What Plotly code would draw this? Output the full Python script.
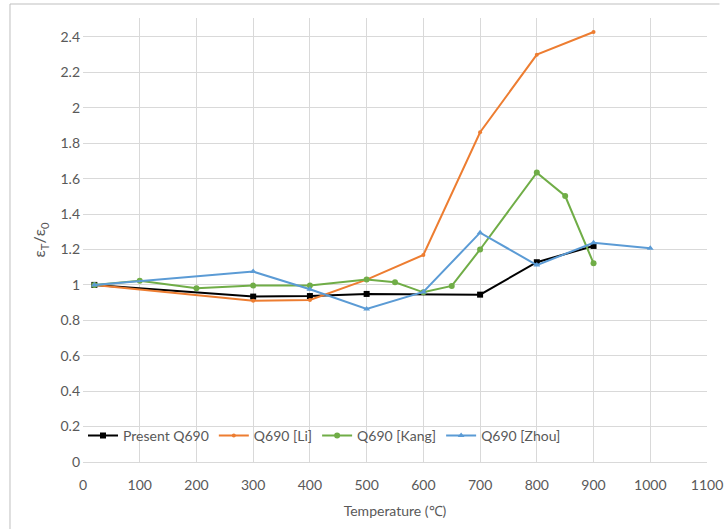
import plotly.graph_objects as go

# Normalised strain ratio vs temperature for Q690 steel
present_t = [20, 300, 400, 500, 700, 800, 900]
present_v = [1.00, 0.934, 0.937, 0.949, 0.945, 1.128, 1.22]

li_t = [20, 300, 400, 500, 600, 700, 800, 900]
li_v = [1.00, 0.91, 0.915, 1.03, 1.169, 1.862, 2.30, 2.428]

kang_t = [20, 100, 200, 300, 400, 500, 550, 600, 650, 700, 800, 850, 900]
kang_v = [1.00, 1.024, 0.981, 0.996, 0.996, 1.03, 1.015, 0.958, 0.994, 1.20, 1.634, 1.502, 1.122]

zhou_t = [20, 300, 400, 500, 600, 700, 800, 900, 1000]
zhou_v = [1.00, 1.075, 0.975, 0.864, 0.96, 1.295, 1.112, 1.238, 1.207]

x_ticks = list(range(0, 1101, 100))
y_ticks = [round(0.2 * i, 1) for i in range(13)]

FONT = "Lato"
GREY = "#595959"
FS = 14

fig = go.Figure()
fig.add_trace(go.Scatter(x=present_t, y=present_v, name="Present Q690", mode="lines+markers",
                         line=dict(color="#000000", width=2),
                         marker=dict(symbol="square", size=6, color="#000000")))
fig.add_trace(go.Scatter(x=li_t, y=li_v, name="Q690 [Li]", mode="lines+markers",
                         line=dict(color="#ED7D31", width=2),
                         marker=dict(symbol="circle", size=4, color="#ED7D31")))
fig.add_trace(go.Scatter(x=kang_t, y=kang_v, name="Q690 [Kang]", mode="lines+markers",
                         line=dict(color="#70AD47", width=2),
                         marker=dict(symbol="circle", size=6, color="#70AD47")))
fig.add_trace(go.Scatter(x=zhou_t, y=zhou_v, name="Q690 [Zhou]", mode="lines+markers",
                         line=dict(color="#5B9BD5", width=2),
                         marker=dict(symbol="triangle-up", size=6, color="#5B9BD5")))

fig.update_layout(
    width=724, height=529,
    margin=dict(l=83, r=17, t=18, b=67),
    paper_bgcolor="white", plot_bgcolor="white",
    font=dict(family=FONT, size=FS, color=GREY),
    showlegend=True,
    legend=dict(orientation="h", x=0.0, y=0.059, xanchor="left", yanchor="middle",
                bgcolor="rgba(0,0,0,0)", font=dict(family=FONT, size=FS, color=GREY),
                itemwidth=30, traceorder="normal"),
    xaxis=dict(range=[0, 1100], tickvals=x_ticks, ticktext=[str(v) for v in x_ticks],
               automargin=False,
               showgrid=True, gridcolor="#D9D9D9", gridwidth=1, zeroline=False,
               showline=True, linecolor="#D9D9D9", ticks="", ticklen=0,
               ticklabelstandoff=10,
               title=dict(text="Temperature (℃)", font=dict(family=FONT, size=FS, color=GREY), standoff=14),
               tickfont=dict(family=FONT, size=FS, color=GREY)),
    yaxis=dict(range=[0, 2.507], tickvals=y_ticks, ticktext=[f"{v:g}" for v in y_ticks],
               automargin=False,
               showgrid=True, gridcolor="#D9D9D9", gridwidth=1, zeroline=False,
               showline=False, ticks="", ticklabelstandoff=2,
               title=dict(text="ε<sub>T</sub>/ε<sub>0</sub>", font=dict(family=FONT, size=16, color=GREY), standoff=10),
               tickfont=dict(family=FONT, size=FS, color=GREY)),
    shapes=[
        dict(type="line", xref="paper", yref="paper", x0=-0.117, x1=1.02, y0=1.0315, y1=1.0315,
             line=dict(color="#BFBFBF", width=1)),
        dict(type="line", xref="paper", yref="paper", x0=-0.117, x1=-0.117, y0=-0.16, y1=1.0315,
             line=dict(color="#BFBFBF", width=1)),
    ],
)

fig.write_html("out.html")
